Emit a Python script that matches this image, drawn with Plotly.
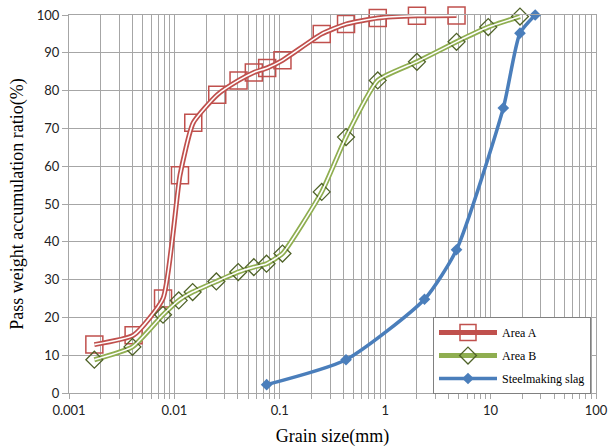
import plotly.graph_objects as go

# Grain size distribution (mm) vs cumulative passing (%)
area_a_size = [0.00174, 0.0041, 0.0078, 0.0113, 0.0151, 0.0255, 0.0406, 0.0567, 0.0759, 0.106,
               0.25, 0.425, 0.85, 2.0, 4.75]
area_a_pass = [12.8, 15.3, 25.0, 57.6, 71.5, 78.9, 82.7, 84.8, 86.0, 88.0,
               95.0, 97.6, 99.2, 99.8, 99.9]

area_b_size = [0.00174, 0.0040, 0.0078, 0.011, 0.0149, 0.025, 0.0403, 0.0567, 0.0748, 0.106,
               0.25, 0.425, 0.85, 2.0, 4.75, 9.5, 19.0]
area_b_pass = [8.8, 12.2, 20.7, 24.5, 26.7, 29.5, 32.0, 33.3, 34.2, 36.9,
               53.2, 67.7, 82.7, 87.6, 92.9, 96.8, 99.6]

slag_size = [0.075, 0.425, 2.36, 4.75, 13.2, 19.0, 26.5]
slag_pass = [2.2, 8.8, 24.8, 37.9, 75.4, 95.2, 100.0]

decade_labels = ["0.001", "0.01", "0.1", "1", "10", "100"]
y_ticks = list(range(0, 101, 10))

RED = "#C0504D"
GREEN = "#8FAE50"
OLIVE = "#4F6228"
BLUE = "#4A7EBB"
GRID = "#A6A6A6"
NB = "\u00a0"

# log grid lines at every 1..9 x 10^k, labels only on decades
x_tickvals, x_ticktext = [], []
for lab in decade_labels[:-1]:
    base = float(lab)
    for m in range(1, 10):
        x_tickvals.append(base * m)
        x_ticktext.append(lab if m == 1 else "")
x_tickvals.append(float(decade_labels[-1]))
x_ticktext.append(decade_labels[-1])

fig = go.Figure()

def double_line(xs, ys, color, marker, name, group):
    # coloured outer stroke with a thin white core, like a compound line
    fig.add_trace(go.Scatter(
        x=xs, y=ys, name=name, legendgroup=group, mode="lines+markers",
        line=dict(color=color, width=5, shape="spline", smoothing=0.5),
        marker=marker, cliponaxis=False, hoverinfo="skip"))
    fig.add_trace(go.Scatter(
        x=xs, y=ys, showlegend=False, legendgroup=group, mode="lines",
        line=dict(color="white", width=1.6, shape="spline", smoothing=0.5),
        cliponaxis=False, hoverinfo="skip"))

double_line(area_a_size, area_a_pass, RED,
            dict(symbol="square-open", size=17, color=RED, line=dict(width=1.5, color=RED)),
            "Area A", "a")
double_line(area_b_size, area_b_pass, GREEN,
            dict(symbol="diamond-open", size=13, color=OLIVE, line=dict(width=1.3, color=OLIVE)),
            "Area B", "b")

fig.add_trace(go.Scatter(
    x=slag_size, y=slag_pass, name="Steelmaking slag", legendgroup="c", mode="lines+markers",
    line=dict(color=BLUE, width=3.5, shape="spline", smoothing=0.6),
    marker=dict(symbol="diamond", size=9, color=BLUE),
    cliponaxis=False, hoverinfo="skip"))

fig.update_layout(
    width=614, height=448,
    margin=dict(l=69, r=18, t=15, b=55, autoexpand=False),
    paper_bgcolor="white", plot_bgcolor="white",
    showlegend=True,
    legend=dict(
        x=0.6907, y=0.201, xanchor="left", yanchor="top",
        bgcolor="white", bordercolor="#808080", borderwidth=1,
        font=dict(family="Liberation Serif", size=12, color="black"),
        tracegroupgap=4, itemwidth=58,
    ),
    xaxis=dict(
        type="log", range=[-3, 2], automargin=False,
        tickmode="array", tickvals=x_tickvals, ticktext=x_ticktext,
        ticks="outside", ticklen=5, tickcolor=GRID, tickwidth=1,
        showgrid=True, gridcolor=GRID, gridwidth=1,
        showline=True, linecolor=GRID, linewidth=1, mirror=True,
        zeroline=False,
        tickfont=dict(family="Lato", size=13, color="#222222"),
        title=dict(text="Grain size(mm)" + NB * 2, standoff=12,
                   font=dict(family="Liberation Serif", size=18, color="black")),
    ),
    yaxis=dict(
        range=[0, 100], tickmode="array", tickvals=y_ticks, automargin=False,
        ticks="outside", ticklen=6, tickcolor=GRID, tickwidth=1,
        showgrid=True, gridcolor=GRID, gridwidth=1,
        showline=True, linecolor=GRID, linewidth=1, mirror=True,
        zeroline=False,
        tickfont=dict(family="Lato", size=13, color="#222222"),
        title=dict(text="Pass weight accumulation ratio(%)", standoff=8,
                   font=dict(family="Liberation Serif", size=18, color="black")),
    ),
)

fig.write_html("out.html")
